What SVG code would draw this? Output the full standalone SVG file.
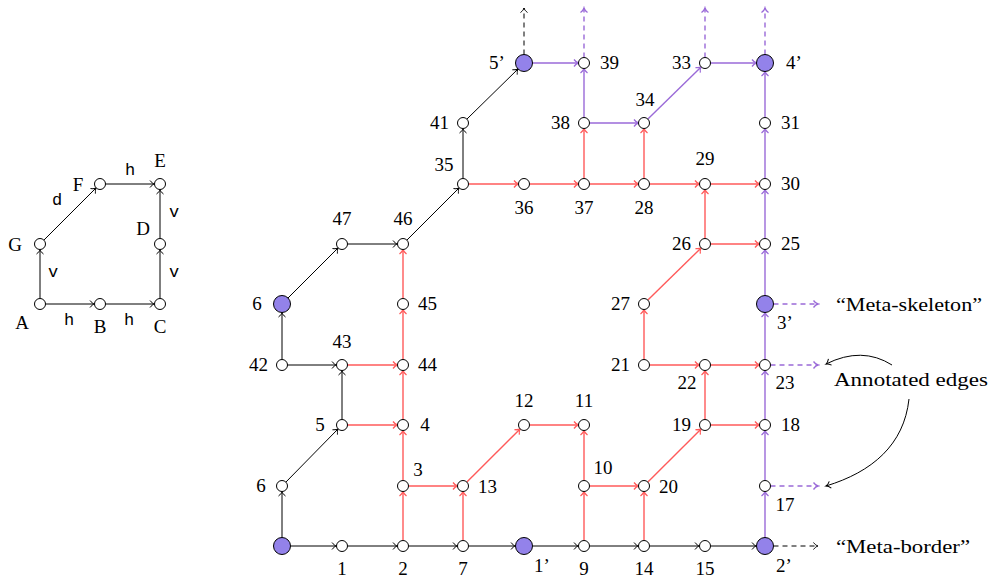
<svg xmlns="http://www.w3.org/2000/svg" width="990" height="579" viewBox="0 0 990 579">
<style>
.n{fill:#fff;stroke:#000;stroke-width:1}
.p{fill:#9382ea;stroke:#000;stroke-width:1}
.k{stroke:#000;stroke-width:1;fill:none;marker-end:url(#ak)}
.r{stroke:#ff5a5a;stroke-width:1.4;fill:none;marker-end:url(#ar)}
.v{stroke:#9a6ad8;stroke-width:1.4;fill:none;marker-end:url(#av)}
.dk{stroke-dasharray:5 4}
text{font-family:"Liberation Serif","Times New Roman",serif;font-size:19px;fill:#000}
.t{text-anchor:middle}
.e{text-anchor:end}
.m{font-family:"Liberation Mono","DejaVu Sans Mono",monospace;font-size:17px;text-anchor:middle}
</style>
<defs>
<marker id="ak" viewBox="-6 -5 8 10" markerWidth="8" markerHeight="10" refX="0" refY="0" orient="auto" markerUnits="userSpaceOnUse"><path d="M-4.5,-3.5 C-3,-1.5 -1.5,-0.4 0,0 C-1.5,0.4 -3,1.5 -4.5,3.5" fill="none" stroke="#000" stroke-width="1"/></marker>
<marker id="ar" viewBox="-6 -5 8 10" markerWidth="8" markerHeight="10" refX="0" refY="0" orient="auto" markerUnits="userSpaceOnUse"><path d="M-4.5,-3.5 C-3,-1.5 -1.5,-0.4 0,0 C-1.5,0.4 -3,1.5 -4.5,3.5" fill="none" stroke="#ff5a5a" stroke-width="1.3"/></marker>
<marker id="av" viewBox="-6 -5 8 10" markerWidth="8" markerHeight="10" refX="0" refY="0" orient="auto" markerUnits="userSpaceOnUse"><path d="M-4.5,-3.5 C-3,-1.5 -1.5,-0.4 0,0 C-1.5,0.4 -3,1.5 -4.5,3.5" fill="none" stroke="#9a6ad8" stroke-width="1.3"/></marker>
</defs>

<g id="connectors">
<!-- left small diagram -->
<line class="k" x1="45.5" y1="304" x2="94.5" y2="304"/>
<line class="k" x1="105.5" y1="304" x2="154.5" y2="304"/>
<line class="k" x1="160" y1="298.5" x2="160" y2="249.5"/>
<line class="k" x1="160" y1="238.5" x2="160" y2="189.5"/>
<line class="k" x1="105.5" y1="184" x2="154.5" y2="184"/>
<line class="k" x1="40" y1="298.5" x2="40" y2="249.5"/>
<line class="k" x1="43.9" y1="240.1" x2="96.1" y2="187.9"/>

<!-- black -->
<line class="k" x1="290.5" y1="546" x2="336.5" y2="546"/>
<line class="k" x1="347.5" y1="546" x2="397.5" y2="546"/>
<line class="k" x1="408.5" y1="546" x2="457.5" y2="546"/>
<line class="k" x1="468.5" y1="546" x2="515.5" y2="546"/>
<line class="k" x1="532.5" y1="546" x2="578.5" y2="546"/>
<line class="k" x1="589.5" y1="546" x2="638.5" y2="546"/>
<line class="k" x1="649.5" y1="546" x2="699.5" y2="546"/>
<line class="k" x1="710.5" y1="546" x2="756.5" y2="546"/>
<line class="k" x1="282" y1="537.5" x2="282" y2="491.5"/>
<line class="k" x1="285.9" y1="482.1" x2="338.1" y2="428.9"/>
<line class="k" x1="342" y1="419.5" x2="342" y2="370.5"/>
<line class="k" x1="287.5" y1="365" x2="336.5" y2="365"/>
<line class="k" x1="282" y1="359.5" x2="282" y2="312.5"/>
<line class="k" x1="288" y1="298" x2="338.1" y2="247.9"/>
<line class="k" x1="347.5" y1="244" x2="397.5" y2="244"/>
<line class="k" x1="406.9" y1="240.1" x2="459.1" y2="187.9"/>
<line class="k" x1="463" y1="178.5" x2="463" y2="128.5"/>
<line class="k" x1="466.9" y1="119.1" x2="518" y2="69"/>
<line class="k dk" x1="524" y1="54.5" x2="524" y2="8"/>
<line class="k dk" x1="773.5" y1="546" x2="818" y2="546"/>

<!-- red -->
<line class="r" x1="403" y1="540.5" x2="403" y2="491.5"/>
<line class="r" x1="403" y1="480.5" x2="403" y2="430.5"/>
<line class="r" x1="403" y1="419.5" x2="403" y2="370.5"/>
<line class="r" x1="403" y1="359.5" x2="403" y2="309.5"/>
<line class="r" x1="403" y1="298.5" x2="403" y2="249.5"/>
<line class="r" x1="408.5" y1="486" x2="457.5" y2="486"/>
<line class="r" x1="463" y1="540.5" x2="463" y2="491.5"/>
<line class="r" x1="466.9" y1="482.1" x2="520.1" y2="428.9"/>
<line class="r" x1="529.5" y1="425" x2="578.5" y2="425"/>
<line class="r" x1="584" y1="540.5" x2="584" y2="491.5"/>
<line class="r" x1="584" y1="480.5" x2="584" y2="430.5"/>
<line class="r" x1="589.5" y1="486" x2="638.5" y2="486"/>
<line class="r" x1="644" y1="540.5" x2="644" y2="491.5"/>
<line class="r" x1="647.9" y1="482.1" x2="701.1" y2="428.9"/>
<line class="r" x1="705" y1="419.5" x2="705" y2="370.5"/>
<line class="r" x1="710.5" y1="425" x2="759.5" y2="425"/>
<line class="r" x1="649.5" y1="365" x2="699.5" y2="365"/>
<line class="r" x1="710.5" y1="365" x2="759.5" y2="365"/>
<line class="r" x1="644" y1="359.5" x2="644" y2="309.5"/>
<line class="r" x1="647.9" y1="300.1" x2="701.1" y2="247.9"/>
<line class="r" x1="705" y1="238.5" x2="705" y2="189.5"/>
<line class="r" x1="710.5" y1="244" x2="759.5" y2="244"/>
<line class="r" x1="347.5" y1="425" x2="397.5" y2="425"/>
<line class="r" x1="347.5" y1="365" x2="397.5" y2="365"/>
<line class="r" x1="468.5" y1="184" x2="518.5" y2="184"/>
<line class="r" x1="529.5" y1="184" x2="578.5" y2="184"/>
<line class="r" x1="589.5" y1="184" x2="638.5" y2="184"/>
<line class="r" x1="649.5" y1="184" x2="699.5" y2="184"/>
<line class="r" x1="710.5" y1="184" x2="759.5" y2="184"/>
<line class="r" x1="584" y1="178.5" x2="584" y2="128.5"/>
<line class="r" x1="644" y1="178.5" x2="644" y2="128.5"/>

<!-- purple -->
<line class="v" x1="765" y1="537.5" x2="765" y2="491.5"/>
<line class="v" x1="765" y1="480.5" x2="765" y2="430.5"/>
<line class="v" x1="765" y1="419.5" x2="765" y2="370.5"/>
<line class="v" x1="765" y1="359.5" x2="765" y2="312.5"/>
<line class="v" x1="765" y1="295.5" x2="765" y2="249.5"/>
<line class="v" x1="765" y1="238.5" x2="765" y2="189.5"/>
<line class="v" x1="765" y1="178.5" x2="765" y2="128.5"/>
<line class="v" x1="765" y1="117.5" x2="765" y2="71.5"/>
<line class="v" x1="532.5" y1="63" x2="578.5" y2="63"/>
<line class="v" x1="584" y1="117.5" x2="584" y2="68.5"/>
<line class="v" x1="589.5" y1="123" x2="638.5" y2="123"/>
<line class="v" x1="647.9" y1="119.1" x2="701.1" y2="66.9"/>
<line class="v" x1="710.5" y1="63" x2="756.5" y2="63"/>
<line class="v dk" x1="584" y1="57.5" x2="584" y2="8"/>
<line class="v dk" x1="705" y1="57.5" x2="705" y2="8"/>
<line class="v dk" x1="765" y1="54.5" x2="765" y2="8"/>
<line class="v dk" x1="773.5" y1="304" x2="818" y2="304"/>
<line class="v dk" x1="770.5" y1="365" x2="818" y2="365"/>
<line class="v dk" x1="770.5" y1="486" x2="818" y2="486"/>

<!-- annotation arrows -->
<path class="k" d="M892,365 Q862,346 826,364"/>
<path class="k" d="M909,399 C904,445 872,472 826,486"/>
</g>

<g id="small-diagram">
<g id="A"><circle class="n" cx="40" cy="304" r="5.5"/><text class="t" x="22" y="329">A</text></g>
<g id="B"><circle class="n" cx="100" cy="304" r="5.5"/><text class="t" x="100" y="333">B</text></g>
<g id="C"><circle class="n" cx="160" cy="304" r="5.5"/><text class="t" x="160" y="333">C</text></g>
<g id="D"><circle class="n" cx="160" cy="244" r="5.5"/><text class="t" x="143" y="235">D</text></g>
<g id="E"><circle class="n" cx="160" cy="184" r="5.5"/><text class="t" x="160" y="167">E</text></g>
<g id="F"><circle class="n" cx="100" cy="184" r="5.5"/><text class="t" x="78" y="191">F</text></g>
<g id="G"><circle class="n" cx="40" cy="244" r="5.5"/><text class="t" x="15" y="251">G</text></g>
<text class="m" x="69" y="325">h</text>
<text class="m" x="129" y="325">h</text>
<text class="m" x="53" y="277">v</text>
<text class="m" x="57" y="205">d</text>
<text class="m" x="130" y="175">h</text>
<text class="m" x="174" y="217">v</text>
<text class="m" x="174" y="277">v</text>
</g>

<g id="nodes">
<g id="n0"><circle class="p" cx="282" cy="546" r="8.5"/></g>
<g id="n1"><circle class="n" cx="342" cy="546" r="5.5"/><text class="t" x="342" y="575">1</text></g>
<g id="n2"><circle class="n" cx="403" cy="546" r="5.5"/><text class="t" x="403" y="575">2</text></g>
<g id="n7"><circle class="n" cx="463" cy="546" r="5.5"/><text class="t" x="463" y="575">7</text></g>
<g id="n1p"><circle class="p" cx="524" cy="546" r="8.5"/><text class="t" x="542" y="572">1’</text></g>
<g id="n9"><circle class="n" cx="584" cy="546" r="5.5"/><text class="t" x="584" y="575">9</text></g>
<g id="n14"><circle class="n" cx="644" cy="546" r="5.5"/><text class="t" x="644" y="575">14</text></g>
<g id="n15"><circle class="n" cx="705" cy="546" r="5.5"/><text class="t" x="705" y="575">15</text></g>
<g id="n2p"><circle class="p" cx="765" cy="546" r="8.5"/><text class="t" x="784" y="572">2’</text></g>
<g id="n6a"><circle class="n" cx="282" cy="486" r="5.5"/><text class="t" x="261" y="492">6</text></g>
<g id="n3"><circle class="n" cx="403" cy="486" r="5.5"/><text class="t" x="418" y="476">3</text></g>
<g id="n13"><circle class="n" cx="463" cy="486" r="5.5"/><text x="478" y="493">13</text></g>
<g id="n10"><circle class="n" cx="584" cy="486" r="5.5"/><text class="t" x="603" y="474">10</text></g>
<g id="n20"><circle class="n" cx="644" cy="486" r="5.5"/><text x="659" y="493">20</text></g>
<g id="n17"><circle class="n" cx="765" cy="486" r="5.5"/><text class="t" x="785" y="511">17</text></g>
<g id="n5"><circle class="n" cx="342" cy="425" r="5.5"/><text class="t" x="320" y="431">5</text></g>
<g id="n4"><circle class="n" cx="403" cy="425" r="5.5"/><text class="t" x="425" y="431">4</text></g>
<g id="n12"><circle class="n" cx="524" cy="425" r="5.5"/><text class="t" x="524" y="407">12</text></g>
<g id="n11"><circle class="n" cx="584" cy="425" r="5.5"/><text class="t" x="584" y="407">11</text></g>
<g id="n19"><circle class="n" cx="705" cy="425" r="5.5"/><text class="e" x="691" y="431">19</text></g>
<g id="n18"><circle class="n" cx="765" cy="425" r="5.5"/><text x="781" y="431">18</text></g>
<g id="n42"><circle class="n" cx="282" cy="365" r="5.5"/><text class="e" x="268" y="371">42</text></g>
<g id="n43"><circle class="n" cx="342" cy="365" r="5.5"/><text class="t" x="342" y="348">43</text></g>
<g id="n44"><circle class="n" cx="403" cy="365" r="5.5"/><text x="418" y="371">44</text></g>
<g id="n21"><circle class="n" cx="644" cy="365" r="5.5"/><text class="e" x="630" y="371">21</text></g>
<g id="n22"><circle class="n" cx="705" cy="365" r="5.5"/><text class="t" x="687" y="389">22</text></g>
<g id="n23"><circle class="n" cx="765" cy="365" r="5.5"/><text class="t" x="785" y="389">23</text></g>
<g id="n6b"><circle class="p" cx="282" cy="304" r="8.5"/><text class="t" x="257" y="310">6</text></g>
<g id="n45"><circle class="n" cx="403" cy="304" r="5.5"/><text x="418" y="310">45</text></g>
<g id="n27"><circle class="n" cx="644" cy="304" r="5.5"/><text class="e" x="630" y="310">27</text></g>
<g id="n3p"><circle class="p" cx="765" cy="304" r="8.5"/><text class="t" x="785" y="329">3’</text></g>
<g id="n47"><circle class="n" cx="342" cy="244" r="5.5"/><text class="t" x="342" y="225">47</text></g>
<g id="n46"><circle class="n" cx="403" cy="244" r="5.5"/><text class="t" x="403" y="225">46</text></g>
<g id="n26"><circle class="n" cx="705" cy="244" r="5.5"/><text class="e" x="691" y="250">26</text></g>
<g id="n25"><circle class="n" cx="765" cy="244" r="5.5"/><text x="781" y="250">25</text></g>
<g id="n35"><circle class="n" cx="463" cy="184" r="5.5"/><text class="t" x="444" y="171">35</text></g>
<g id="n36"><circle class="n" cx="524" cy="184" r="5.5"/><text class="t" x="524" y="214">36</text></g>
<g id="n37"><circle class="n" cx="584" cy="184" r="5.5"/><text class="t" x="584" y="214">37</text></g>
<g id="n28"><circle class="n" cx="644" cy="184" r="5.5"/><text class="t" x="644" y="214">28</text></g>
<g id="n29"><circle class="n" cx="705" cy="184" r="5.5"/><text class="t" x="705" y="165">29</text></g>
<g id="n30"><circle class="n" cx="765" cy="184" r="5.5"/><text x="781" y="190">30</text></g>
<g id="n41"><circle class="n" cx="463" cy="123" r="5.5"/><text class="e" x="449" y="129">41</text></g>
<g id="n38"><circle class="n" cx="584" cy="123" r="5.5"/><text class="e" x="570" y="129">38</text></g>
<g id="n34"><circle class="n" cx="644" cy="123" r="5.5"/><text class="t" x="645" y="106">34</text></g>
<g id="n31"><circle class="n" cx="765" cy="123" r="5.5"/><text x="781" y="129">31</text></g>
<g id="n5p"><circle class="p" cx="524" cy="63" r="8.5"/><text class="t" x="497" y="69">5’</text></g>
<g id="n39"><circle class="n" cx="584" cy="63" r="5.5"/><text x="600" y="69">39</text></g>
<g id="n33"><circle class="n" cx="705" cy="63" r="5.5"/><text class="e" x="691" y="69">33</text></g>
<g id="n4p"><circle class="p" cx="765" cy="63" r="8.5"/><text class="t" x="794" y="69">4’</text></g>
</g>

<g id="annotations">
<text x="836" y="311" textLength="146" lengthAdjust="spacingAndGlyphs">“Meta-skeleton”</text>
<text x="834" y="386" textLength="154" lengthAdjust="spacingAndGlyphs">Annotated edges</text>
<text x="836" y="553" textLength="134" lengthAdjust="spacingAndGlyphs">“Meta-border”</text>
</g>
</svg>
